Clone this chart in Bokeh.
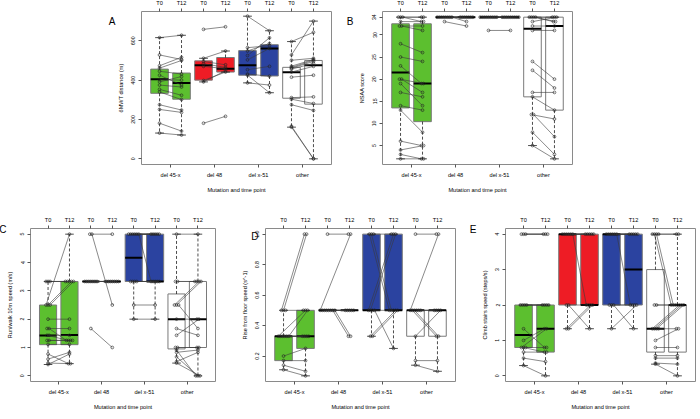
from collections import Counter
from bokeh.plotting import figure
from bokeh.models import FixedTicker, LinearAxis, Range1d, PrintfTickFormatter
from bokeh.layouts import column, row
from bokeh.embed import file_html
from bokeh.resources import INLINE

FONT = "Liberation Sans"

groups = ["del 45-x", "del 48", "del x-51", "other"]
timepoints = ["T0", "T12"]
group_colors = ["#5CBF2F", "#EE1C25", "#2B43A0", "#FFFFFF"]
x_title = "Mutation and time point"

# ---------------- Panel A : 6MWT distance (m) ----------------
A_del45_T0 = [616, 528, 473, 461, 445, 425, 403, 391, 375, 353, 340, 275, 251, 181, 131]
A_del45_T12 = [628, 505, 516, 500, 431, 375, 400, 418, 365, 323, 301, 248, 236, 141, 121]
A_del48_T0 = [658, 511, 495, 483, 470, 398, 391, 181]
A_del48_T12 = [671, 548, 478, 465, 458, 441, 448, 216]
A_x51_T0 = [725, 565, 548, 525, 503, 453, 431, 425, 386]
A_x51_T12 = [651, 575, 586, 615, 561, 470, 420, 336, 375]
A_other_T0 = [596, 528, 501, 471, 465, 461, 456, 441, 415, 311, 303, 275, 166, 161]
A_other_T12 = [643, 700, 511, 505, 501, 495, 485, 470, 425, 315, 281, 246, 1, 0]
A_q1 = [333, 303, 400, 441, 425, 421, 308, 278]
A_med = [405, 385, 476, 458, 475, 561, 440, 475]
A_q3 = [456, 436, 498, 515, 550, 580, 465, 500]
A_lo = [131, 121, 391, 441, 386, 336, 161, 0]
A_hi = [616, 628, 511, 548, 725, 651, 596, 700]

# ---------------- Panel B : NSAA score ----------------
B_del45_T0 = [34, 34, 34, 33, 32, 32, 28, 25, 23, 20, 20, 19, 17, 14, 13, 6, 4, 3, 2]
B_del45_T12 = [34, 34, 33, 33, 32, 31, 26, 24, 19, 19, 17, 14, 16, 13, 8, 5, 5, 2, 2]
B_del48_T0 = [34, 34, 34, 34, 34, 34, 34, 34, 33]
B_del48_T12 = [34, 34, 34, 34, 34, 34, 34, 33, 32]
B_x51_T0 = [34, 34, 34, 34, 34, 34, 34, 34, 34, 31]
B_x51_T12 = [34, 34, 34, 34, 34, 34, 34, 34, 34, 31]
B_other_T0 = [34, 34, 34, 34, 33, 32, 31, 24, 22, 17, 16, 12, 12, 8, 5]
B_other_T12 = [34, 34, 33, 33, 34, 32, 31, 20, 18, 17, 13, 11, 7, 3, 2]
B_q1 = [13.5, 10.4, 34, 34, 34, 34, 16, 13]
B_med = [21.5, 19, 34, 34, 34, 34, 31.4, 32]
B_q3 = [32.5, 32.5, 34, 34, 34, 34, 34, 34]
B_lo = [2, 2, 34, 34, 34, 34, 5, 2]
B_hi = [34, 34, 34, 34, 34, 34, 34, 34]

# ---------------- Panel C : Run/walk 10m speed (m/s) ----------------
C_del45_T0 = [3.33, 3.33, 3.33, 2.5, 2.5, 2.5, 2.0, 1.67, 1.67, 1.43, 1.43, 1.25, 1.25, 1.11, 0.77, 0.59, 0.45, 0.4]
C_del45_T12 = [3.33, 3.33, 3.33, 5.0, 3.33, 3.33, 2.0, 1.67, 1.25, 1.25, 1.43, 1.25, 1.25, 1.11, 0.43, 0.83, 0.43, 0.77]
C_del48_T0 = [5.0, 5.0, 3.33, 3.33, 3.33, 3.33, 3.33, 3.33, 3.33, 1.67]
C_del48_T12 = [5.0, 2.5, 3.33, 3.33, 3.33, 3.33, 3.33, 3.33, 3.33, 1.0]
C_x51_T0 = [5.0, 5.0, 5.0, 5.0, 5.0, 5.0, 3.33, 3.33, 3.33, 3.33, 2.5, 2.0]
C_x51_T12 = [5.0, 5.0, 5.0, 5.0, 5.0, 3.33, 3.33, 3.33, 3.33, 3.33, 2.5, 2.0]
C_other_T0 = [5.0, 3.33, 3.33, 2.5, 2.5, 2.5, 2.0, 1.67, 1.43, 1.0, 1.0, 0.91, 0.83, 0.67, 0.5, 0.45]
C_other_T12 = [5.0, 3.33, 3.33, 3.33, 3.33, 1.67, 2.0, 1.43, 2.0, 1.0, 1.0, 0.0, 0.91, 0.0, 0.83, 0.0]
C_q1 = [1.1, 1.1, 3.33, 3.33, 3.33, 3.33, 0.95, 1.0]
C_med = [1.42, 1.44, 3.33, 3.33, 4.17, 3.33, 2.0, 2.0]
C_q3 = [2.5, 3.33, 3.33, 3.33, 5.0, 5.0, 2.89, 3.33]
C_lo = [0.4, 0.43, 3.33, 3.33, 2.0, 2.0, 0.45, 0.0]
C_hi = [3.33, 5.0, 3.33, 3.33, 5.0, 5.0, 5.0, 5.0]

# ---------------- Panel D : Rise from floor speed ----------------
D_del45_T0 = [0.5, 0.5, 0.5, 0.33, 0.33, 0.33, 0.33, 0.33, 0.33, 0.2, 0.17, 0.14, 0.11]
D_del45_T12 = [1.0, 1.0, 0.5, 0.5, 0.33, 0.33, 0.33, 0.33, 0.5, 0.25, 0.17, 0.1, 0.07]
D_del48_T0 = [1.0, 0.5, 0.5, 0.5, 0.5, 0.5, 0.5, 0.5, 0.5]
D_del48_T12 = [1.0, 1.0, 0.5, 0.5, 0.5, 0.5, 0.5, 0.33, 0.33]
D_x51_T0 = [1.0, 1.0, 1.0, 0.5, 0.5, 0.5, 0.5, 0.33, 0.33]
D_x51_T12 = [0.5, 0.5, 1.0, 1.0, 1.0, 0.5, 0.25, 0.5, 0.5]
D_other_T0 = [1.0, 0.5, 0.5, 0.5, 0.5, 0.5, 0.5, 0.33, 0.17, 0.14]
D_other_T12 = [1.0, 1.0, 0.33, 0.33, 0.5, 0.5, 0.5, 0.5, 0.17, 0.1]
D_q1 = [0.17, 0.25, 0.5, 0.5, 0.5, 0.5, 0.33, 0.33]
D_med = [0.33, 0.33, 0.5, 0.5, 0.5, 0.5, 0.5, 0.5]
D_q3 = [0.33, 0.5, 0.5, 0.5, 1.0, 1.0, 0.5, 0.5]
D_lo = [0.11, 0.07, 0.5, 0.5, 0.33, 0.25, 0.14, 0.1]
D_hi = [0.5, 0.5, 0.5, 0.5, 1.0, 1.0, 0.5, 0.5]

# ---------------- Panel E : Climb stairs speed ----------------
E_del45_T0 = [4, 4, 4, 2, 2, 2, 2, 1.33, 1.0, 0.8, 0.8, 0.8, 0.67, 0.5, 0.29]
E_del45_T12 = [4, 4, 4, 2, 2, 2, 2, 0.8, 1.33, 1.33, 0.67, 0.8, 0.67, 0.4, 0.0]
E_del48_T0 = [4, 4, 4, 4, 4, 4, 2, 2, 1.33, 1.33]
E_del48_T12 = [4, 4, 4, 4, 4, 2, 2, 1.33, 2, 2]
E_x51_T0 = [4, 4, 4, 4, 4, 4, 2, 2, 2, 1.33]
E_x51_T12 = [4, 4, 4, 4, 4, 2, 2, 2, 1.33, 2]
E_other_T0 = [4, 4, 4, 4, 2, 2, 1.33, 1.33, 1.33, 1.33, 1.0, 0.8, 0.57, 0.5, 0.36, 0.33]
E_other_T12 = [4, 2, 2, 4, 2, 2, 2, 2, 2, 1.33, 1.33, 0.8, 0.57, 0.5, 0.33, 0.0]
E_q1 = [0.8, 0.67, 2, 2, 2, 2, 0.67, 0.67]
E_med = [1.15, 1.33, 4, 2, 4, 3, 1.33, 2]
E_q3 = [2, 2, 4, 4, 4, 4, 3, 2]
E_lo = [0.29, 0.0, 1.33, 1.33, 1.33, 1.33, 0.33, 0.0]
E_hi = [2, 2, 4, 4, 4, 4, 4, 4]

# ---------------- layout constants ----------------
X0, X1 = 0.18, 8.82
FRAME_W, FRAME_H = 190, 156
positions = list(range(1, 2 * len(groups) + 1))
group_centers = [2 * g + 1.5 for g in range(len(groups))]
box_fill = [c for c in group_colors for _ in timepoints]
HALF = 0.4
CAP = 0.2


def spread(vals, center, step=0.095):
    tot = Counter(vals)
    seen = Counter()
    xs = []
    for v in vals:
        n = tot[v]
        k = seen[v]
        seen[v] += 1
        xs.append(center + (k - (n - 1) / 2) * step)
    return xs


def style_axis(ax, size="5.6px"):
    ax.major_label_text_font = FONT
    ax.major_label_text_font_size = size
    ax.major_label_text_color = "black"
    ax.axis_label_text_font = FONT
    ax.axis_label_text_font_size = "5.6px"
    ax.axis_label_text_font_style = "normal"
    ax.axis_label_text_color = "black"
    ax.axis_line_color = None
    ax.major_tick_line_color = "#555555"
    ax.major_tick_out = 3
    ax.major_tick_in = 0
    ax.minor_tick_line_color = None
    ax.major_label_standoff = 3


def make_panel(letter, ylabel, yr, yticks, series, stats, width, height,
               bl, br, bt, bb, letter_standoff, letter_dy, yfmt=None):
    p = figure(width=width, height=height, x_range=Range1d(X0, X1),
               y_range=Range1d(*yr), output_backend="svg", toolbar_location=None,
               x_axis_location=None, y_axis_location=None,
               min_border_left=bl, min_border_right=br,
               min_border_top=bt, min_border_bottom=bb)
    p.grid.visible = False
    p.outline_line_color = "#8a8a8a"
    p.outline_line_width = 1
    q1, med, q3, lo, hi = stats
    left = [x - HALF for x in positions]
    right = [x + HALF for x in positions]
    p.quad(left=left, right=right, bottom=q1, top=q3, fill_color=box_fill,
           line_color="#7a7a7a", line_width=1)
    p.segment(x0=positions, y0=q3, x1=positions, y1=hi, line_color="black",
              line_dash="3 2", line_width=0.7)
    p.segment(x0=positions, y0=q1, x1=positions, y1=lo, line_color="black",
              line_dash="3 2", line_width=0.7)
    p.segment(x0=[x - CAP for x in positions], y0=hi, x1=[x + CAP for x in positions],
              y1=hi, line_color="black", line_width=0.7)
    p.segment(x0=[x - CAP for x in positions], y0=lo, x1=[x + CAP for x in positions],
              y1=lo, line_color="black", line_width=0.7)
    p.segment(x0=left, y0=med, x1=right, y1=med, line_color="black", line_width=2)

    xs_l, ys_l, px, py = [], [], [], []
    for g, (t0, t12) in enumerate(series):
        xa = spread(t0, 2 * g + 1)
        xb = spread(t12, 2 * g + 2)
        for a, b, va, vb in zip(xa, xb, t0, t12):
            xs_l.append([a, b])
            ys_l.append([va, vb])
        px += xa + xb
        py += list(t0) + list(t12)
    p.multi_line(xs_l, ys_l, line_color="#3a3a3a", line_width=0.6)
    p.scatter(px, py, marker="circle", size=2.8, fill_color=None,
              line_color="#222222", line_width=0.6)

    top = LinearAxis(ticker=FixedTicker(ticks=positions),
                     major_label_overrides={pos: timepoints[(pos - 1) % 2] for pos in positions})
    style_axis(top)
    p.add_layout(top, "above")

    bottom = LinearAxis(ticker=FixedTicker(ticks=group_centers),
                        major_label_overrides={c: g for c, g in zip(group_centers, groups)},
                        axis_label=x_title)
    style_axis(bottom)
    bottom.major_label_standoff = 4
    bottom.axis_label_standoff = 6
    p.add_layout(bottom, "below")

    lax = LinearAxis(ticker=FixedTicker(ticks=yticks), axis_label=ylabel,
                     major_label_orientation="vertical")
    if yfmt:
        lax.formatter = PrintfTickFormatter(format=yfmt)
    style_axis(lax, "5.2px")
    lax.axis_label_standoff = 5
    p.add_layout(lax, "left")

    # panel letter, as the single label of an outer left axis
    ppy = FRAME_H / (yr[1] - yr[0])
    ly = yr[1] - letter_dy / ppy
    lett = LinearAxis(ticker=FixedTicker(ticks=[ly]), major_label_overrides={ly: letter})
    style_axis(lett, "10px")
    lett.major_tick_line_color = None
    lett.major_tick_out = 0
    lett.major_label_standoff = letter_standoff
    p.add_layout(lett, "left")
    return p


pA = make_panel("A", "6MWT distance (m)", (-28.8, 748.8), [0, 200, 400, 600],
                [(A_del45_T0, A_del45_T12), (A_del48_T0, A_del48_T12),
                 (A_x51_T0, A_x51_T12), (A_other_T0, A_other_T12)],
                (A_q1, A_med, A_q3, A_lo, A_hi), 345, 217, 145, 10, 12, 49, -1, 10.4)
pB = make_panel("B", "NSAA score", (0.72, 35.28), [5, 10, 15, 20, 25, 30, 34],
                [(B_del45_T0, B_del45_T12), (B_del48_T0, B_del48_T12),
                 (B_x51_T0, B_x51_T12), (B_other_T0, B_other_T12)],
                (B_q1, B_med, B_q3, B_lo, B_hi), 355, 217, 41, 124, 12, 49, 2, 10.4)
pC = make_panel("C", "Run/walk 10m speed (m/s)", (-0.2, 5.2), [0, 1, 2, 3, 4, 5],
                [(C_del45_T0, C_del45_T12), (C_del48_T0, C_del48_T12),
                 (C_x51_T0, C_x51_T12), (C_other_T0, C_other_T12)],
                (C_q1, C_med, C_q3, C_lo, C_hi), 229, 202, 29, 10, 12, 34, -3, 1)
pD = make_panel("D", "Rise from floor speed (s^-1)", (0.033, 1.037), [0.2, 0.4, 0.6, 0.8, 1.0],
                [(D_del45_T0, D_del45_T12), (D_del48_T0, D_del48_T12),
                 (D_x51_T0, D_x51_T12), (D_other_T0, D_other_T12)],
                (D_q1, D_med, D_q3, D_lo, D_hi), 240, 202, 40, 10, 12, 34, -20, 8.3, yfmt="%.1f")
pE = make_panel("E", "Climb stairs speed (steps/s)", (-0.16, 4.16), [0, 1, 2, 3, 4],
                [(E_del45_T0, E_del45_T12), (E_del48_T0, E_del48_T12),
                 (E_x51_T0, E_x51_T12), (E_other_T0, E_other_T12)],
                (E_q1, E_med, E_q3, E_lo, E_hi), 231, 202, 40, 1, 12, 34, 2, 1)

layout = column(row(pA, pB), row(pC, pD, pE), margin=(-4, -4, -4, -4))

with open("out.html", "w") as f:
    f.write(file_html(layout, INLINE))
